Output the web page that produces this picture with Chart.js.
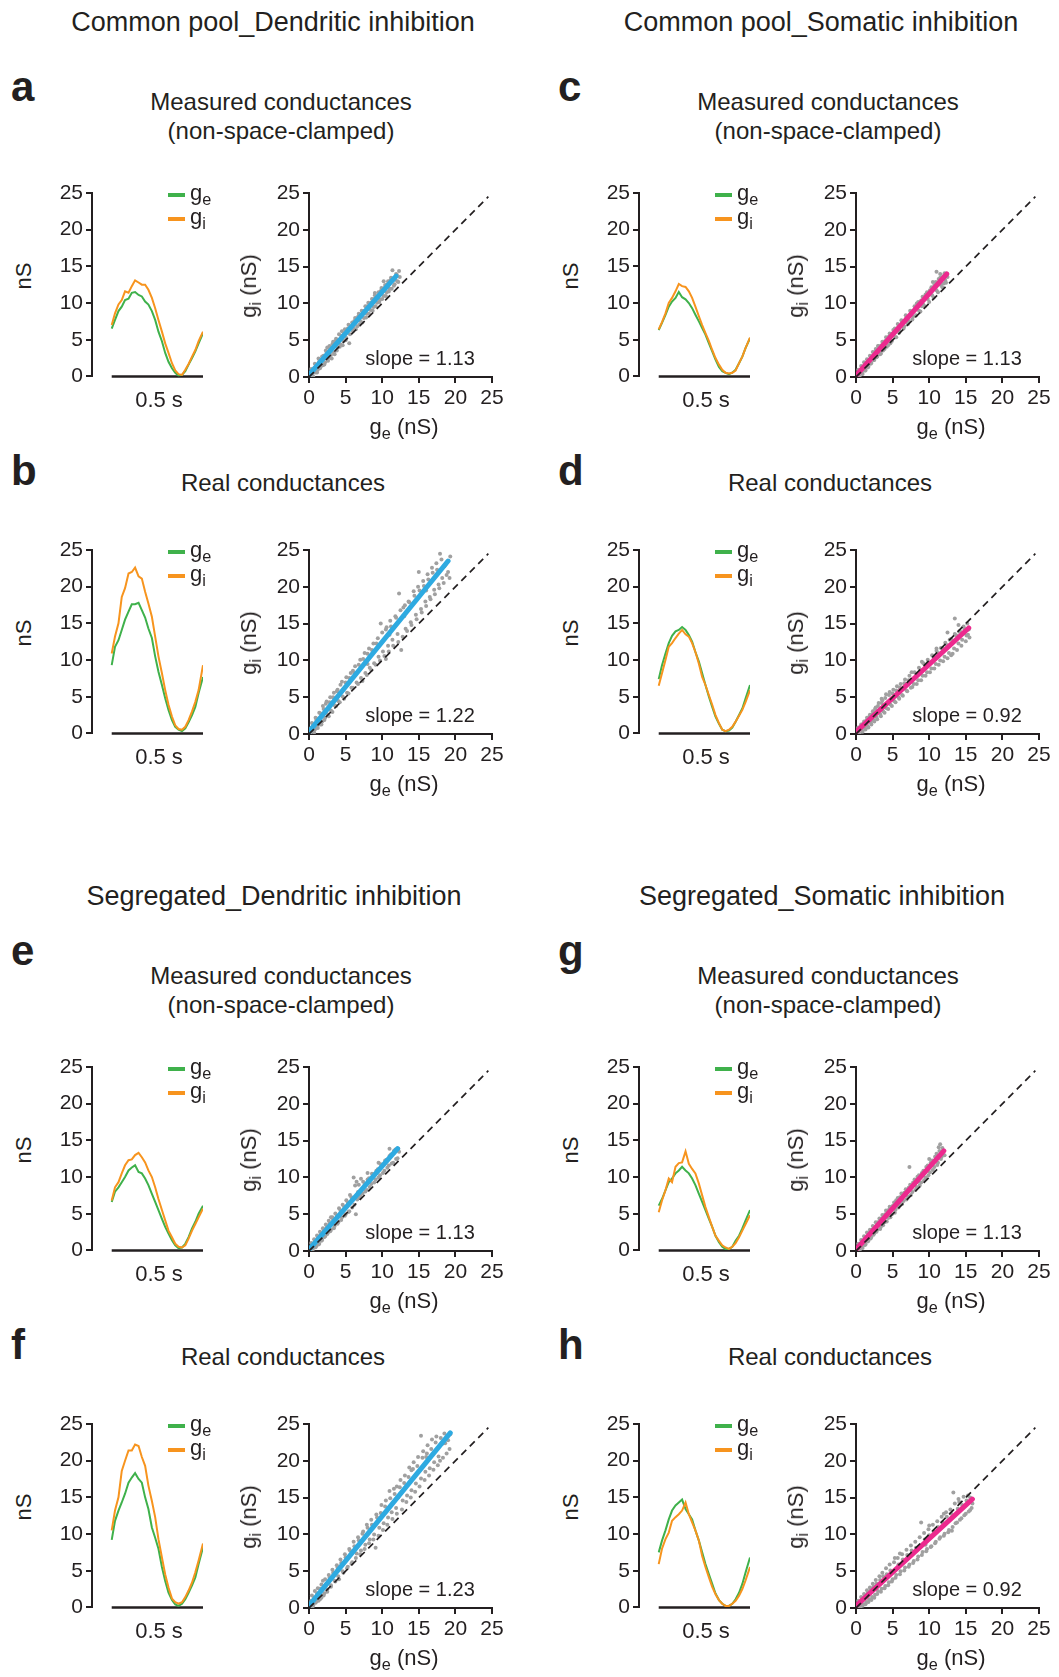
<!DOCTYPE html>
<html><head><meta charset="utf-8">
<script src="https://cdn.jsdelivr.net/npm/chart.js@4.4.1/dist/chart.umd.min.js"></script>
<style>
body{margin:0;background:#fff;}
#fig{position:relative;width:1059px;height:1677px;overflow:hidden;background:#fff;font-family:"Liberation Sans",Arial,Helvetica,sans-serif;color:#231f20;}
.t{position:absolute;white-space:nowrap;line-height:1;}
.sub{position:relative;top:0.3em;font-size:0.74em;}
.bar{position:absolute;height:4px;width:17px;}
</style></head>
<body><div id="fig"></div>
<script>
// ---------------- DATA ----------------
// time axis of the conductance traces (s)
const timeS = [0,0.018,0.037,0.055,0.073,0.092,0.110,0.128,0.147,0.165,0.183,0.201,0.220,0.238,0.256,0.275,0.293,0.311,0.330,0.348,0.366,0.385,0.403,0.421,0.440,0.458,0.476,0.500];
const scaleBarS = [0, 0.5];
const yTicks = [0,5,10,15,20,25];
const unityLine = [[0,0],[24.5,24.5]];

// a  Common pool, dendritic, measured
const geA = [6.5,7.7,8.9,9.5,10.4,10.6,11.4,11.5,11.1,10.9,10.2,9.8,8.9,7.7,6.1,4.8,3.2,2.0,1.1,0.5,0.1,0.2,0.7,1.6,2.5,3.4,4.5,5.9];
const giA = [7.0,8.6,9.8,10.4,11.6,11.4,12.3,13.1,12.8,12.5,12.5,11.8,10.7,9.3,7.7,6.1,4.5,3.2,1.8,0.8,0.3,0.2,0.9,1.7,2.7,3.6,4.8,6.1];
// b  Common pool, dendritic, real
const geB = [9.3,11.8,12.7,14.1,15.5,16.6,17.6,17.6,17.8,16.8,15.8,14.3,13.0,10.5,8.4,6.6,4.8,3.2,1.8,0.9,0.5,0.3,0.7,1.5,2.5,3.6,5.5,7.7];
const giB = [10.9,13.2,15.0,18.6,19.8,21.8,22.0,22.6,21.4,21.1,19.3,17.7,15.9,13.2,10.5,8.2,5.9,3.9,2.3,1.1,0.6,0.5,0.9,1.8,3.0,4.3,5.9,9.3];
// c  Common pool, somatic, measured
const geC = [6.3,7.3,8.4,9.5,10.2,10.7,11.5,10.8,10.5,10.0,9.3,8.4,7.5,6.6,5.7,4.5,3.4,2.3,1.3,0.7,0.5,0.3,0.5,0.9,1.8,2.7,3.9,5.2];
const giC = [6.4,7.4,8.6,10.0,10.7,11.6,12.6,12.3,12.2,11.6,10.7,9.5,8.2,7.0,5.9,4.8,3.6,2.5,1.6,0.9,0.5,0.4,0.5,0.8,1.8,2.7,3.9,5.3];
// d  Common pool, somatic, real
const geD = [7.4,9.3,10.9,12.3,13.3,13.9,14.1,14.5,14.1,13.4,12.5,11.1,9.8,8.2,6.6,5.0,3.6,2.3,1.3,0.5,0.3,0.4,0.8,1.6,2.5,3.4,4.8,6.6];
const giD = [6.5,8.2,10.0,11.8,12.3,13.0,13.6,14.1,13.5,13.2,12.3,11.1,9.5,7.7,6.6,5.2,3.9,2.5,1.4,0.5,0.3,0.5,0.9,1.6,2.4,3.2,4.3,5.9];
// e  Segregated, dendritic, measured
const geE = [6.6,8.0,8.6,9.3,10.0,10.9,11.3,11.6,10.7,10.5,9.8,8.9,7.7,6.6,5.5,4.3,3.2,2.3,1.4,0.7,0.3,0.4,0.9,1.8,3.0,3.9,5.0,6.1];
const giE = [6.8,8.6,9.3,10.5,11.6,12.3,12.4,13.0,13.3,12.7,12.0,10.9,10.0,8.6,7.0,5.5,4.1,2.7,1.8,0.9,0.5,0.4,0.7,1.6,2.7,3.6,4.5,5.7];
// f  Segregated, dendritic, real
const geF = [9.2,11.8,13.2,14.3,15.5,17.0,17.7,18.3,17.5,17.0,15.0,13.4,10.9,9.5,8.0,5.5,3.6,2.0,1.0,0.4,0.2,0.5,1.1,2.0,3.0,4.1,5.9,8.2];
const giF = [10.5,13.2,15.0,18.6,20.0,21.4,21.4,22.2,22.0,20.5,19.3,16.6,14.5,12.3,9.3,6.8,4.5,2.7,1.2,0.7,0.5,0.7,1.4,2.3,3.4,4.8,6.4,8.7];
// g  Segregated, somatic, measured
const geG = [6.1,7.0,8.2,9.3,9.8,10.5,10.9,11.4,10.9,10.5,9.8,8.9,7.7,6.6,5.5,4.3,3.2,2.0,1.1,0.5,0.2,0.2,0.5,1.3,2.0,3.0,4.1,5.5];
const giG = [5.2,6.8,8.2,9.8,9.3,11.4,11.9,12.0,13.5,11.8,11.1,10.5,9.1,7.5,5.9,4.5,3.2,2.0,1.3,0.7,0.4,0.2,0.5,1.0,1.8,2.7,3.6,4.8];
// h  Segregated, somatic, real
const geH = [7.5,9.1,10.5,12.0,13.2,13.9,14.3,14.7,13.4,12.7,12.0,10.5,9.1,7.5,5.9,4.5,3.2,1.9,1.0,0.5,0.2,0.2,0.5,1.1,2.0,3.2,4.8,6.8];
const giH = [5.9,8.0,9.3,10.2,11.8,12.3,12.7,13.2,14.3,12.7,11.6,10.5,9.1,7.0,5.5,4.1,2.8,1.8,1.0,0.5,0.2,0.2,0.5,0.9,1.6,2.5,3.7,5.5];

// scatter clouds [ge, gi]
const scatA = [[0.2,0.3],[0.4,0.9],[0.5,0.2],[0.7,1.2],[0.9,0.6],[1.0,1.6],[1.2,1.0],[1.4,2.1],[1.5,1.2],[1.7,2.4],[1.9,1.6],[2.0,2.9],[2.2,2.0],[2.4,3.3],[2.5,4.0],[2.7,2.6],[2.9,3.8],[3.1,2.5],[3.2,4.5],[3.4,3.3],[3.6,4.9],[3.8,3.6],[4.0,5.0],[4.2,4.1],[4.4,5.6],[4.6,4.3],[4.8,5.9],[5.0,5.0],[5.3,6.6],[5.5,4.6],[5.7,6.8],[6.0,6.2],[6.2,7.6],[6.4,6.5],[6.7,8.2],[6.9,7.1],[7.1,8.3],[7.3,7.4],[7.6,9.0],[7.8,8.1],[8.0,9.6],[8.2,8.6],[8.5,10.1],[8.7,9.0],[8.9,10.6],[9.1,9.6],[9.4,11.0],[9.6,10.2],[9.8,11.7],[10.0,10.6],[10.3,12.1],[10.5,11.0],[10.7,12.6],[10.9,11.6],[11.1,13.1],[11.3,12.0],[11.5,13.4],[11.7,12.6],[11.9,14.0],[12.1,13.0],[11.4,14.5],[12.4,13.6],[10.2,13.0],[9.0,11.4],
  [0.3,1.1],[0.6,0.0],[0.8,1.8],[1.1,0.6],[1.3,2.5],[1.6,1.4],[1.8,2.8],[2.1,1.7],[2.3,3.6],[2.6,2.2],[2.8,4.2],[3.0,3.0],[3.3,4.8],[3.5,3.1],[3.7,5.2],[3.9,4.0],[4.1,5.8],[4.3,4.4],[4.5,6.2],[4.7,4.9],[4.9,6.5],[5.1,5.3],[5.4,7.1],[5.6,5.8],[5.9,7.4],[6.1,6.6],[6.3,8.0],[6.6,6.9],[6.8,8.6],[7.0,7.6],[7.2,9.0],[7.5,8.0],[7.7,9.6],[7.9,8.6],[8.1,10.1],[8.4,9.1],[8.6,10.6],[8.8,9.5],[9.0,11.1],[9.3,10.1],[9.5,11.5],[9.7,10.5],[9.9,12.1],[10.2,11.0],[10.4,12.5],[10.6,11.5],[10.8,13.0],[11.0,12.0],[11.2,13.5],[11.6,12.4],[11.8,13.2],[12.0,13.9],[12.2,12.9],[12.3,14.4]];
const scatB = [[0.2,0.1],[0.3,0.8],[0.5,0.4],[0.6,1.3],[0.8,0.6],[1.0,1.9],[1.1,0.9],[1.3,2.1],[1.5,1.3],[1.6,2.8],[1.8,1.7],[2.0,3.4],[2.2,2.2],[2.3,4.1],[2.5,2.7],[2.8,4.3],[3.0,3.2],[3.3,5.0],[3.5,3.9],[3.8,5.8],[4.0,4.5],[4.3,6.7],[4.6,5.1],[5.0,7.0],[5.2,5.6],[5.5,7.6],[5.8,6.3],[6.2,8.3],[6.5,7.0],[6.8,9.4],[7.1,7.6],[7.4,10.2],[7.7,8.3],[8.0,10.9],[8.3,9.0],[8.6,11.4],[8.9,9.6],[9.2,12.3],[9.5,10.5],[9.8,15.0],[10.1,11.2],[10.5,14.2],[10.8,12.0],[11.1,15.4],[11.4,12.8],[11.8,16.0],[12.1,13.6],[12.3,19.1],[12.6,11.4],[12.9,17.2],[13.2,14.3],[13.6,18.0],[13.9,15.2],[14.3,19.4],[14.6,16.2],[14.9,20.0],[15.3,17.0],[15.6,20.8],[15.9,18.0],[16.2,21.7],[16.5,18.6],[16.8,22.6],[17.1,19.6],[17.4,23.2],[17.7,20.3],[17.9,24.5],[18.2,21.2],[18.5,22.8],[18.8,21.6],[19.3,24.1],[10.5,10.2],[5.2,6.8],[15.0,22.0],[16.0,19.5],[11.0,13.5],[13.0,16.0],[8.0,9.5],[6.0,8.6],
  [0.4,1.5],[0.7,0.2],[0.9,2.2],[1.2,0.8],[1.4,2.9],[1.7,1.3],[1.9,3.8],[2.1,1.9],[2.4,4.4],[2.7,2.4],[2.9,5.0],[3.2,3.0],[3.4,5.6],[3.7,3.8],[3.9,6.0],[4.2,4.3],[4.5,7.1],[4.8,4.8],[5.1,7.7],[5.4,5.5],[5.7,8.3],[6.0,6.3],[6.3,9.2],[6.7,6.8],[7.0,10.1],[7.3,7.2],[7.6,11.0],[7.9,8.0],[8.2,11.6],[8.5,8.7],[8.8,12.3],[9.1,9.4],[9.4,13.0],[9.7,10.0],[10.0,13.8],[10.3,10.6],[10.6,14.5],[10.9,11.2],[11.2,14.6],[11.5,12.0],[11.9,15.8],[12.2,12.5],[12.5,16.8],[12.8,13.2],[13.1,17.5],[13.4,14.0],[13.7,17.9],[14.0,14.8],[14.4,18.8],[14.7,15.6],[15.1,19.5],[15.4,16.5],[15.7,20.1],[16.0,17.4],[16.3,21.0],[16.6,18.3],[16.9,21.9],[17.2,19.0],[17.5,22.3],[17.8,19.8],[18.1,23.7],[18.4,20.5],[18.7,23.1],[19.0,22.0],[19.2,21.2]];
const scatC = [[0.2,0.4],[0.4,0.1],[0.6,1.0],[0.8,0.5],[1.0,1.4],[1.2,0.9],[1.4,1.9],[1.6,1.3],[1.8,2.3],[2.0,1.8],[2.2,2.8],[2.4,2.3],[2.6,3.4],[2.8,2.7],[3.0,3.6],[3.3,3.1],[3.5,4.3],[3.7,3.6],[4.0,4.9],[4.2,4.1],[4.5,5.5],[4.7,4.6],[5.0,5.9],[5.3,6.6],[5.5,5.4],[5.8,6.8],[6.0,6.3],[6.3,7.5],[6.6,6.9],[6.9,8.1],[7.2,7.6],[7.5,8.9],[7.8,8.2],[8.1,9.5],[8.3,10.0],[8.6,9.0],[8.9,10.4],[9.2,9.8],[9.5,11.2],[9.8,10.6],[10.1,11.8],[10.4,11.1],[10.7,12.5],[11.0,14.3],[11.0,11.8],[11.3,13.3],[11.6,12.5],[11.9,13.7],[12.2,13.1],[12.4,14.0],[10.5,12.9],[11.5,14.0],[9.0,9.6],[12.0,12.7],[7.0,7.4],[3.0,4.2],
  [0.3,1.0],[0.5,0.0],[0.7,1.5],[0.9,0.4],[1.1,2.0],[1.3,0.9],[1.5,2.4],[1.7,1.4],[1.9,2.9],[2.1,1.9],[2.3,3.4],[2.5,2.3],[2.7,3.8],[2.9,2.8],[3.1,4.2],[3.4,3.2],[3.6,4.8],[3.9,3.8],[4.1,5.4],[4.4,4.3],[4.6,5.9],[4.9,4.9],[5.1,6.4],[5.4,5.4],[5.7,7.2],[5.9,6.0],[6.2,7.7],[6.5,6.6],[6.8,8.4],[7.1,7.2],[7.4,9.0],[7.7,7.8],[8.0,9.6],[8.2,8.4],[8.5,10.2],[8.8,8.9],[9.1,10.9],[9.4,9.6],[9.7,11.5],[10.0,10.2],[10.3,12.2],[10.6,10.8],[10.9,12.9],[11.2,11.5],[11.5,13.5],[11.8,12.2],[12.1,14.1],[12.3,12.8],[12.5,13.6]];
const scatD = [[0.2,0.4],[0.4,0.1],[0.6,0.9],[0.8,0.5],[1.0,1.4],[1.2,0.8],[1.4,1.8],[1.6,1.1],[1.8,2.3],[2.0,1.6],[2.2,2.7],[2.4,1.9],[2.6,3.4],[2.8,2.3],[3.0,3.8],[3.3,2.7],[3.5,4.2],[3.7,3.1],[4.0,4.9],[4.2,3.5],[4.5,5.3],[4.7,4.0],[5.0,5.5],[5.2,4.5],[5.5,5.9],[5.8,5.0],[6.0,6.3],[6.3,5.3],[6.6,6.9],[6.9,5.9],[7.2,7.3],[7.5,6.3],[7.6,8.4],[7.9,6.8],[8.2,8.0],[8.5,7.3],[8.8,8.7],[9.1,7.9],[9.4,9.3],[9.7,8.4],[10.0,9.7],[10.3,8.9],[10.6,10.4],[10.9,9.5],[11.2,11.0],[11.5,10.0],[11.8,11.6],[12.1,10.5],[12.4,12.1],[12.7,11.0],[13.0,12.9],[13.1,12.3],[13.4,11.6],[13.5,15.7],[13.7,13.4],[14.0,12.3],[14.2,14.0],[14.5,12.8],[14.8,14.3],[15.1,13.4],[15.4,14.2],[9.0,9.8],[11.0,11.6],[3.5,4.8],[12.5,13.8],[14.0,14.8],[13.0,10.7],
  [0.3,0.9],[0.5,0.0],[0.7,1.3],[0.9,0.3],[1.1,1.7],[1.3,0.6],[1.5,2.2],[1.7,0.9],[1.9,2.6],[2.1,1.3],[2.3,3.1],[2.5,1.7],[2.7,3.6],[2.9,2.0],[3.1,4.2],[3.4,2.4],[3.6,4.6],[3.9,2.9],[4.1,5.4],[4.4,3.4],[4.6,5.7],[4.9,3.8],[5.1,6.0],[5.4,4.3],[5.6,6.5],[5.9,4.8],[6.1,6.8],[6.4,5.2],[6.7,7.4],[7.0,5.8],[7.3,7.9],[7.7,6.4],[8.0,8.4],[8.3,6.8],[8.6,9.0],[8.9,7.3],[9.2,9.6],[9.5,7.9],[9.8,10.1],[10.1,8.4],[10.4,10.7],[10.7,8.9],[11.0,11.3],[11.3,9.4],[11.6,11.7],[11.9,9.9],[12.2,12.4],[12.5,10.3],[12.8,12.8],[13.2,10.9],[13.5,13.6],[13.8,11.4],[14.1,13.9],[14.4,12.0],[14.7,14.6],[15.0,12.6],[15.3,13.5],[15.5,13.1],[15.2,15.0]];
const scatE = [[0.2,0.2],[0.4,0.8],[0.6,0.4],[0.8,1.3],[1.0,0.7],[1.2,1.8],[1.4,1.0],[1.6,2.3],[1.8,1.5],[2.0,2.9],[2.2,2.0],[2.4,3.2],[2.6,2.5],[2.8,3.7],[3.0,2.9],[3.3,4.3],[3.5,3.4],[3.8,4.8],[4.0,3.9],[4.3,5.5],[4.5,4.6],[4.8,6.0],[5.0,5.0],[5.3,6.6],[5.5,5.4],[5.8,7.3],[6.1,10.0],[6.2,6.3],[6.4,5.0],[6.5,9.4],[6.7,8.0],[6.9,7.2],[7.1,9.8],[7.3,7.8],[7.6,9.0],[7.9,8.3],[8.2,9.9],[8.5,9.1],[8.8,10.4],[9.1,9.7],[9.4,11.1],[9.7,10.3],[10.0,11.7],[10.3,10.9],[10.6,12.4],[10.9,11.6],[11.2,13.1],[11.5,12.0],[11.8,13.8],[12.1,12.6],[11.0,13.9],[11.6,13.3],[9.5,12.0],[8.0,10.6],[12.3,13.5],[3.0,4.6],
  [0.3,1.1],[0.5,0.0],[0.7,1.6],[0.9,0.5],[1.1,2.1],[1.3,0.9],[1.5,2.6],[1.7,1.4],[1.9,3.1],[2.1,1.9],[2.3,3.6],[2.5,2.3],[2.7,4.1],[2.9,2.7],[3.2,4.6],[3.4,3.1],[3.6,5.1],[3.9,3.7],[4.1,5.8],[4.4,4.2],[4.6,6.3],[4.9,4.8],[5.1,6.9],[5.4,5.3],[5.6,7.6],[5.9,5.9],[6.3,8.9],[6.6,7.0],[6.8,9.0],[7.0,7.5],[7.4,9.4],[7.7,8.1],[8.0,9.7],[8.3,8.7],[8.6,10.5],[8.9,9.3],[9.2,10.9],[9.5,10.0],[9.8,11.8],[10.1,10.6],[10.4,12.3],[10.7,11.3],[11.0,12.9],[11.3,11.9],[11.6,13.6],[11.9,12.5],[12.2,13.9]];
const scatF = [[0.2,0.3],[0.3,1.0],[0.5,0.2],[0.7,1.4],[0.9,0.7],[1.1,2.0],[1.3,1.0],[1.5,2.6],[1.7,1.4],[1.9,3.7],[2.1,2.0],[2.3,3.2],[2.5,2.5],[2.8,4.1],[3.0,2.9],[3.3,4.8],[3.6,3.6],[3.9,5.5],[4.1,3.9],[4.4,6.1],[4.7,4.8],[5.0,6.9],[5.3,5.6],[5.6,7.8],[5.9,6.2],[6.2,8.4],[6.5,7.4],[6.8,9.2],[7.1,7.8],[7.4,10.4],[7.7,8.6],[8.0,10.9],[8.3,9.3],[8.6,11.3],[8.9,10.0],[9.1,8.2],[9.3,12.3],[9.6,10.9],[9.9,14.0],[10.2,11.5],[10.5,14.6],[10.8,12.3],[11.0,15.9],[11.3,13.0],[11.6,16.2],[11.9,13.6],[12.2,15.0],[12.5,17.4],[12.8,14.6],[13.1,18.0],[13.4,15.3],[13.7,19.1],[14.0,16.0],[14.3,19.8],[14.6,16.9],[14.9,20.5],[15.3,23.4],[15.3,17.6],[15.6,21.3],[15.9,18.5],[16.2,22.1],[16.5,19.0],[16.8,22.9],[17.1,19.8],[17.4,23.3],[17.7,20.6],[17.9,20.0],[18.2,22.3],[18.5,23.7],[18.8,21.0],[19.3,23.6],[14.0,18.7],[16.0,20.5],[12.0,16.5],
  [0.4,1.7],[0.6,0.4],[0.8,2.3],[1.0,0.9],[1.2,2.7],[1.5,1.2],[1.7,3.2],[2.0,1.7],[2.2,3.9],[2.5,2.2],[2.7,4.5],[3.0,3.1],[3.2,5.2],[3.5,3.7],[3.8,5.8],[4.0,4.3],[4.3,6.6],[4.6,5.0],[4.9,7.3],[5.2,5.4],[5.5,8.0],[5.8,6.0],[6.1,9.0],[6.4,6.8],[6.7,9.6],[7.0,7.3],[7.3,10.1],[7.6,8.0],[7.9,11.3],[8.2,8.8],[8.5,12.0],[8.8,9.3],[9.2,12.7],[9.5,9.8],[9.8,12.9],[10.1,10.6],[10.4,13.8],[10.7,11.3],[11.1,14.9],[11.4,12.1],[11.7,15.5],[12.0,12.8],[12.4,16.4],[12.7,13.4],[13.0,17.0],[13.3,14.4],[13.6,17.8],[13.9,15.0],[14.2,18.9],[14.5,15.8],[14.8,19.3],[15.1,16.5],[15.5,20.4],[15.8,17.4],[16.1,21.0],[16.4,18.0],[16.7,21.6],[17.0,18.8],[17.3,22.5],[17.6,19.4],[18.0,23.1],[18.3,20.4],[18.6,22.4],[19.0,22.8],[19.2,21.6]];
const scatG = [[0.2,0.3],[0.4,0.0],[0.6,0.9],[0.8,0.5],[1.0,1.4],[1.2,0.8],[1.4,1.9],[1.6,1.3],[1.8,2.4],[2.0,1.7],[2.2,2.9],[2.4,2.2],[2.6,3.3],[2.8,2.6],[3.0,3.9],[3.3,3.0],[3.5,4.4],[3.7,3.5],[4.0,5.0],[4.2,4.0],[4.5,5.6],[4.7,4.6],[5.0,6.1],[5.3,5.2],[5.5,6.9],[5.8,5.9],[6.0,7.3],[6.3,6.4],[6.6,7.9],[6.9,7.0],[7.2,8.6],[7.3,11.4],[7.5,7.6],[7.8,9.3],[8.1,8.3],[8.4,10.1],[8.7,8.9],[9.0,10.6],[9.3,9.6],[9.6,11.4],[9.9,10.3],[10.2,12.0],[10.5,11.0],[10.8,12.8],[11.1,11.7],[11.3,14.1],[11.5,14.5],[11.6,12.5],[11.9,13.6],[12.1,13.0],[10.0,12.5],[8.5,9.4],[11.0,13.2],[6.0,6.5],[3.5,4.0],[9.5,10.8],
  [0.3,1.0],[0.5,0.1],[0.7,1.5],[0.9,0.4],[1.1,2.0],[1.3,0.9],[1.5,2.5],[1.7,1.4],[1.9,2.9],[2.1,1.9],[2.3,3.4],[2.5,2.4],[2.7,3.9],[2.9,2.9],[3.2,4.4],[3.4,3.3],[3.6,4.9],[3.9,3.9],[4.1,5.5],[4.4,4.5],[4.6,6.0],[4.9,5.0],[5.2,6.6],[5.4,5.6],[5.7,7.2],[6.0,6.2],[6.2,7.8],[6.5,6.8],[6.8,8.4],[7.1,7.4],[7.4,9.0],[7.7,8.0],[8.0,9.7],[8.3,8.7],[8.6,10.3],[8.9,9.3],[9.2,10.9],[9.5,10.0],[9.8,11.6],[10.1,10.7],[10.4,12.3],[10.7,11.4],[11.0,12.9],[11.2,12.0],[11.4,13.6],[11.7,12.8],[11.8,14.0]];
const scatH = [[0.2,0.3],[0.4,0.9],[0.6,0.2],[0.8,1.2],[1.0,0.5],[1.2,1.6],[1.4,0.8],[1.6,2.0],[1.8,1.2],[2.0,2.6],[2.2,1.5],[2.4,2.9],[2.6,1.8],[2.8,3.3],[3.0,2.3],[3.3,3.8],[3.5,2.6],[3.7,4.3],[4.0,3.0],[4.2,4.6],[4.5,3.5],[4.7,5.1],[5.0,3.9],[5.3,6.8],[5.5,4.5],[5.8,5.9],[6.1,5.0],[6.4,6.6],[6.7,5.5],[7.0,7.2],[7.3,5.9],[7.6,7.8],[7.9,6.4],[8.2,8.2],[8.5,7.0],[8.9,11.6],[9.1,7.6],[9.4,9.3],[9.7,8.0],[10.0,9.9],[10.3,8.4],[10.6,10.4],[10.9,9.0],[11.2,11.0],[11.5,9.6],[11.8,11.6],[12.1,10.1],[12.4,12.4],[12.7,10.6],[13.0,12.8],[13.1,10.5],[13.3,15.7],[13.6,11.5],[13.9,13.5],[14.2,12.0],[14.5,14.0],[14.8,12.6],[15.1,14.6],[15.4,13.1],[15.8,13.6],[15.6,15.0],[10.0,11.2],[12.0,12.8],[6.0,7.4],[14.0,14.8],[9.5,8.6],
  [0.3,1.0],[0.5,0.0],[0.7,1.5],[0.9,0.3],[1.1,1.9],[1.3,0.5],[1.5,2.4],[1.7,0.8],[1.9,2.8],[2.1,1.1],[2.3,3.3],[2.5,1.4],[2.7,3.8],[2.9,1.9],[3.2,4.3],[3.4,2.2],[3.6,4.8],[3.9,2.7],[4.1,5.4],[4.4,3.1],[4.6,5.9],[4.9,3.6],[5.2,6.2],[5.4,4.1],[5.7,6.8],[6.0,4.6],[6.3,7.3],[6.6,5.1],[6.9,7.9],[7.2,5.6],[7.5,8.5],[7.8,6.1],[8.1,9.0],[8.4,6.6],[8.7,9.6],[9.0,7.2],[9.3,10.2],[9.6,7.7],[9.9,10.7],[10.2,8.3],[10.5,11.3],[10.8,8.8],[11.1,11.8],[11.4,9.4],[11.7,12.4],[12.0,9.8],[12.3,13.0],[12.6,10.3],[12.9,13.4],[13.2,11.0],[13.5,14.2],[13.8,11.6],[14.1,14.4],[14.4,12.2],[14.7,15.1],[15.0,12.8],[15.3,15.3],[15.6,13.3],[15.9,14.2]];

// regression-line end points [ge, gi] and slopes
const fitA = [[0,0.3],[11.9,13.7]];
const fitB = [[0,0.3],[19.0,23.5]];
const fitC = [[0,0.2],[12.4,14.0]];
const fitD = [[0,0.3],[15.4,14.4]];
const fitE = [[0,0.2],[12.1,13.9]];
const fitF = [[0,0.3],[19.3,23.8]];
const fitG = [[0,0.2],[12.0,13.6]];
const fitH = [[0,0.3],[15.9,14.8]];
const slopes = ['1.13','1.22','1.13','0.92','1.13','1.23','1.13','0.92'];

// ---------------- STYLE / LAYOUT ----------------
const FONT = '"Liberation Sans", Arial, Helvetica, sans-serif';
const AX = '#231f20';
const GREEN = '#3fb14b', ORANGE = '#f7941e', BLUE = '#2eaae1', PINK = '#ec2a8e', DOT = '#a0a0a0';
const COLX = [0, 547];
const sections = [
  {text:'Common pool_Dendritic inhibition', x:273, y:9},
  {text:'Common pool_Somatic inhibition', x:821, y:9},
  {text:'Segregated_Dendritic inhibition', x:274, y:883},
  {text:'Segregated_Somatic inhibition', x:822, y:883}
];
const MEAS = ['Measured conductances','(non-space-clamped)'];
const REAL = ['Real conductances'];
const panels = [
  {L:'a', ox:COLX[0], oy:0,    two:true,  lt:66, ge:geA, gi:giA, sc:scatA, fit:fitA, col:BLUE, s:slopes[0]},
  {L:'b', ox:COLX[0], oy:357,  two:false, lt:93, ge:geB, gi:giB, sc:scatB, fit:fitB, col:BLUE, s:slopes[1]},
  {L:'c', ox:COLX[1], oy:0,    two:true,  lt:66, ge:geC, gi:giC, sc:scatC, fit:fitC, col:PINK, s:slopes[2]},
  {L:'d', ox:COLX[1], oy:357,  two:false, lt:93, ge:geD, gi:giD, sc:scatD, fit:fitD, col:PINK, s:slopes[3]},
  {L:'e', ox:COLX[0], oy:874,  two:true,  lt:56, ge:geE, gi:giE, sc:scatE, fit:fitE, col:BLUE, s:slopes[4]},
  {L:'f', ox:COLX[0], oy:1231, two:false, lt:93, ge:geF, gi:giF, sc:scatF, fit:fitF, col:BLUE, s:slopes[5]},
  {L:'g', ox:COLX[1], oy:874,  two:true,  lt:56, ge:geG, gi:giG, sc:scatG, fit:fitG, col:PINK, s:slopes[6]},
  {L:'h', ox:COLX[1], oy:1231, two:false, lt:93, ge:geH, gi:giH, sc:scatH, fit:fitH, col:PINK, s:slopes[7]}
];

const fig = document.getElementById('fig');
function txt(html, x, y, size, mode, bold){
  const d = document.createElement('div');
  d.className = 't';
  d.innerHTML = html;
  d.style.left = x + 'px';
  d.style.top = y + 'px';
  d.style.fontSize = size + 'px';
  if (bold) d.style.fontWeight = 'bold';
  if (mode === 'c') d.style.transform = 'translateX(-50%)';
  if (mode === 'r') d.style.transform = 'translate(-50%,-50%) rotate(-90deg)';
  fig.appendChild(d);
}
function bar(x, y, color){
  const d = document.createElement('div');
  d.className = 'bar';
  d.style.left = x + 'px'; d.style.top = (y - 2) + 'px'; d.style.background = color;
  fig.appendChild(d);
}
function canvasAt(x, y, w, h){
  const c = document.createElement('canvas');
  c.width = w; c.height = h;
  c.style.position = 'absolute';
  c.style.left = x + 'px'; c.style.top = y + 'px';
  c.style.width = w + 'px'; c.style.height = h + 'px';
  fig.appendChild(c);
  return c;
}
function yAxisOpts(){
  return {
    min:0, max:25,
    afterBuildTicks(s){ s.ticks = yTicks.map(v => ({value:v})); },
    ticks:{font:{family:FONT, size:21}, color:AX, padding:3},
    grid:{drawOnChartArea:false, drawTicks:true, tickLength:6, color:AX, lineWidth:2},
    border:{display:true, color:AX, width:2},
    afterFit(s){ s.width = 50; }
  };
}
const pts = arr => arr.map(p => ({x:p[0], y:p[1]}));

sections.forEach(s => txt(s.text, s.x, s.y, 27, 'c'));

panels.forEach(p => {
  const X = p.ox, Y = p.oy;
  // panel letter and titles
  txt(p.L, X + 11, Y + p.lt, 42, null, true);
  if (p.two) {
    txt(MEAS[0], X + 281, Y + 90, 24, 'c');
    txt(MEAS[1], X + 281, Y + 119, 24, 'c');
  } else {
    txt(REAL[0], X + 283, Y + 114, 24, 'c');
  }
  // trace chart
  const c1 = canvasAt(X + 42, Y + 173, 170, 219);
  new Chart(c1, {
    type:'line',
    data:{datasets:[
      {data:timeS.map((t,i)=>({x:t, y:p.gi[i]})), borderColor:ORANGE, borderWidth:2, pointRadius:0, tension:0, order:1},
      {data:timeS.map((t,i)=>({x:t, y:p.ge[i]})), borderColor:GREEN, borderWidth:2, pointRadius:0, tension:0, order:2},
      {data:scaleBarS.map(t=>({x:t, y:0})), borderColor:AX, borderWidth:2.5, pointRadius:0, order:3, clip:false}
    ]},
    options:{
      responsive:false, animation:false, devicePixelRatio:1, events:[],
      layout:{padding:{top:20, right:9, bottom:15, left:0}},
      plugins:{legend:{display:false}, tooltip:{enabled:false}},
      scales:{
        x:{type:'linear', min:-0.108, max:0.5, display:false},
        y:yAxisOpts()
      }
    }
  });
  txt('nS', X + 24, Y + 276, 22, 'r');
  bar(X + 168, Y + 195, GREEN);
  bar(X + 168, Y + 219, ORANGE);
  txt('g<span class="sub">e</span>', X + 190, Y + 182, 22);
  txt('g<span class="sub">i</span>', X + 190, Y + 206, 22);
  txt('0.5 s', X + 159, Y + 389, 22, 'c');

  // scatter chart
  const c2 = canvasAt(X + 259, Y + 173, 253, 249);
  new Chart(c2, {
    type:'scatter',
    data:{datasets:[
      {type:'line', data:pts(unityLine), borderColor:AX, borderWidth:1.7, borderDash:[7,5], pointRadius:0, order:0},
      {type:'line', data:pts(p.fit), borderColor:p.col, borderWidth:5, borderCapStyle:'round', pointRadius:0, order:1},
      {data:pts(p.sc), pointRadius:2, backgroundColor:DOT, borderWidth:0, order:2}
    ]},
    options:{
      responsive:false, animation:false, devicePixelRatio:1, events:[],
      layout:{padding:{top:20, right:20, bottom:0, left:0}},
      plugins:{legend:{display:false}, tooltip:{enabled:false}},
      scales:{
        x:{type:'linear', min:0, max:25,
           afterBuildTicks(s){ s.ticks = yTicks.map(v => ({value:v})); },
           ticks:{font:{family:FONT, size:21}, color:AX, padding:3, maxRotation:0},
           grid:{drawOnChartArea:false, drawTicks:true, tickLength:6, color:AX, lineWidth:2},
           border:{display:true, color:AX, width:2},
           afterFit(s){ s.height = 45; }},
        y:yAxisOpts()
      }
    }
  });
  txt('g<span class="sub">i</span> (nS)', X + 249, Y + 286, 22, 'r');
  txt('g<span class="sub">e</span> (nS)', X + 404, Y + 416, 22, 'c');
  txt('slope = ' + p.s, X + 420, Y + 348, 20, 'c');
});
</script>
</body></html>
